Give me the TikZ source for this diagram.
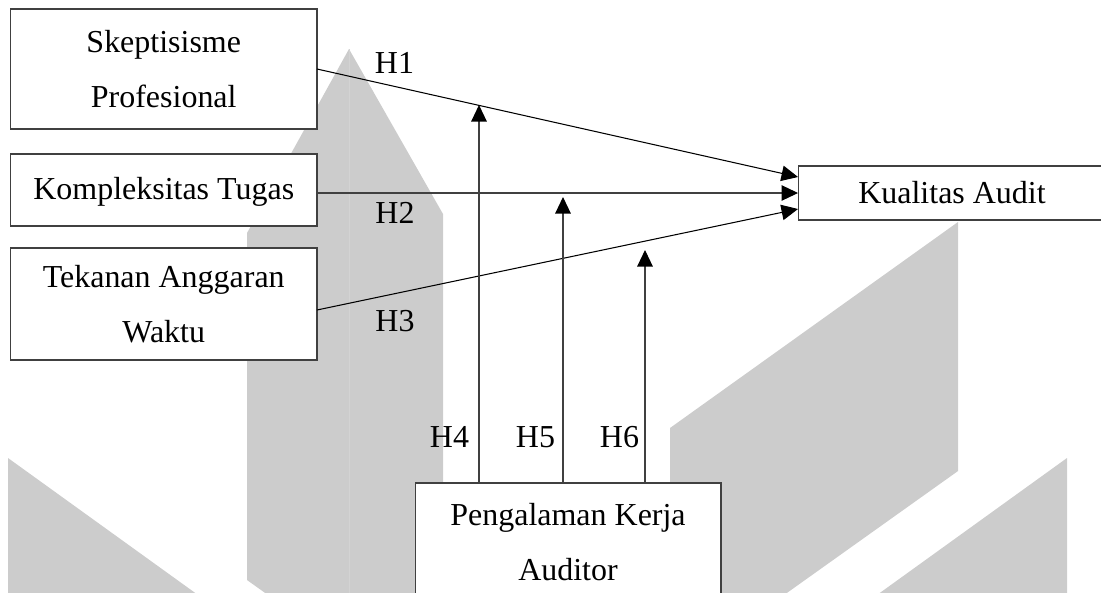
\documentclass[tikz,border=0pt]{standalone}
\usepackage{fontspec}
\setmainfont{Liberation Serif}
\usepackage{xcolor}
\usepackage{tikz}
\usetikzlibrary{arrows.meta, positioning}
\definecolor{wmgrey}{HTML}{CCCCCC}
\definecolor{wmline}{HTML}{D3D3D3}
\definecolor{boxline}{HTML}{404040}

\begin{document}
\begin{tikzpicture}[
  x=0.02cm, y=-0.02cm,
  var/.style={draw=boxline, fill=white, line width=0.6pt, inner sep=0pt, outer sep=0pt, align=center,
    font=\fontsize{18.2}{31.3}\selectfont},
  arr/.style={-{Triangle[length=0.33cm, width=0.31cm, color=black]}, line width=0.6pt},
  hyp/.style={anchor=base, font=\fontsize{18.2}{22}\selectfont},
]
  \clip (0,0) rectangle (1101,592);
  % watermark in the background
  \fill[wmgrey] (349,49) -- (443,214) -- (443,600) -- (275,600) -- (247,580) -- (247,233) -- cycle;
  \draw[wmline, line width=0.3pt] (349,49) -- (349,600);
  \fill[wmgrey] (8,458) -- (205,600) -- (8,600) -- cycle;
  \fill[wmgrey] (958,222) -- (670,428) -- (670,600) -- (777,600) -- (958,471) -- cycle;
  \fill[wmgrey] (1067,458) -- (870,600) -- (1067,600) -- cycle;

  % variables
  \node[var, minimum width=6.13cm, minimum height=2.4cm] (skep) at (163.75,69) {Skeptisisme\\Profesional};
  \node[var, minimum width=6.13cm, minimum height=1.44cm, text depth=0.05cm] (komp) at (163.75,190) {Kompleksitas Tugas};
  \node[var, minimum width=6.13cm, minimum height=2.24cm] (tek) at (163.75,304) {Tekanan Anggaran\\Waktu};
  \node[var, minimum width=6.16cm, minimum height=1.08cm] (kual) at (952,193) {Kualitas Audit};
  \node[var, minimum width=6.12cm, minimum height=2.36cm] (peng) at (568,542) {Pengalaman Kerja\\Auditor};

  % direct effects
  \draw[arr] (skep.east) -- ([yshift=0.32cm]kual.west);
  \draw[arr, draw=boxline] (komp.east |- kual.west) -- (kual.west);
  \draw[arr] ([yshift=-0.12cm]tek.east) -- ([yshift=-0.32cm]kual.west);

  % moderation
  \coordinate (m4) at (479,105);
  \coordinate (m5) at (563,197);
  \coordinate (m6) at (645,250);
  \draw[arr, draw=boxline] (peng.north -| m4) -- (m4);
  \draw[arr, draw=boxline] (peng.north -| m5) -- (m5);
  \draw[arr, draw=boxline] (peng.north -| m6) -- (m6);

  \node[hyp] (h1) at (394.5,73) {H1};
  \node[hyp] (h2) at (395,223) {H2};
  \node[hyp] (h3) at (395,331) {H3};
  \node[hyp] (h4) at (449.5,447) {H4};
  \node[hyp] (h5) at (535.5,447) {H5};
  \node[hyp] (h6) at (619.5,447) {H6};
\end{tikzpicture}
\end{document}
